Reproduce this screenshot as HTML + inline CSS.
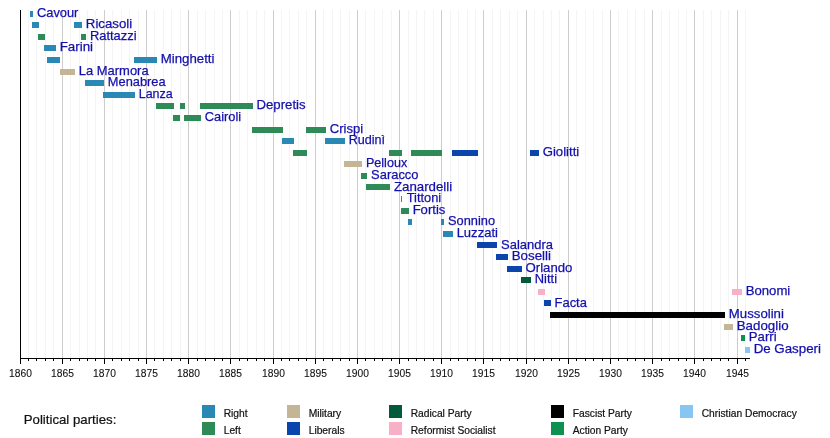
<!DOCTYPE html><html><head><meta charset="utf-8"><style>html,body{margin:0;padding:0;background:#fff;}svg{display:block;will-change:transform;}text{font-family:"Liberation Sans",sans-serif;}</style></head><body>
<svg width="830" height="438" viewBox="0 0 830 438">
<rect width="830" height="438" fill="#fff"/>
<line x1="28.50" y1="10" x2="28.50" y2="358" stroke="#f4f4f4" stroke-width="1"/>
<line x1="36.50" y1="10" x2="36.50" y2="358" stroke="#f4f4f4" stroke-width="1"/>
<line x1="45.50" y1="10" x2="45.50" y2="358" stroke="#f4f4f4" stroke-width="1"/>
<line x1="53.50" y1="10" x2="53.50" y2="358" stroke="#f4f4f4" stroke-width="1"/>
<line x1="62.50" y1="10" x2="62.50" y2="358" stroke="#cdcdcd" stroke-width="1"/>
<line x1="70.50" y1="10" x2="70.50" y2="358" stroke="#f4f4f4" stroke-width="1"/>
<line x1="79.50" y1="10" x2="79.50" y2="358" stroke="#f4f4f4" stroke-width="1"/>
<line x1="87.50" y1="10" x2="87.50" y2="358" stroke="#f4f4f4" stroke-width="1"/>
<line x1="95.50" y1="10" x2="95.50" y2="358" stroke="#f4f4f4" stroke-width="1"/>
<line x1="104.50" y1="10" x2="104.50" y2="358" stroke="#cdcdcd" stroke-width="1"/>
<line x1="112.50" y1="10" x2="112.50" y2="358" stroke="#f4f4f4" stroke-width="1"/>
<line x1="121.50" y1="10" x2="121.50" y2="358" stroke="#f4f4f4" stroke-width="1"/>
<line x1="129.50" y1="10" x2="129.50" y2="358" stroke="#f4f4f4" stroke-width="1"/>
<line x1="138.50" y1="10" x2="138.50" y2="358" stroke="#f4f4f4" stroke-width="1"/>
<line x1="146.50" y1="10" x2="146.50" y2="358" stroke="#cdcdcd" stroke-width="1"/>
<line x1="154.50" y1="10" x2="154.50" y2="358" stroke="#f4f4f4" stroke-width="1"/>
<line x1="163.50" y1="10" x2="163.50" y2="358" stroke="#f4f4f4" stroke-width="1"/>
<line x1="171.50" y1="10" x2="171.50" y2="358" stroke="#f4f4f4" stroke-width="1"/>
<line x1="180.50" y1="10" x2="180.50" y2="358" stroke="#f4f4f4" stroke-width="1"/>
<line x1="188.50" y1="10" x2="188.50" y2="358" stroke="#cdcdcd" stroke-width="1"/>
<line x1="197.50" y1="10" x2="197.50" y2="358" stroke="#f4f4f4" stroke-width="1"/>
<line x1="205.50" y1="10" x2="205.50" y2="358" stroke="#f4f4f4" stroke-width="1"/>
<line x1="214.50" y1="10" x2="214.50" y2="358" stroke="#f4f4f4" stroke-width="1"/>
<line x1="222.50" y1="10" x2="222.50" y2="358" stroke="#f4f4f4" stroke-width="1"/>
<line x1="230.50" y1="10" x2="230.50" y2="358" stroke="#cdcdcd" stroke-width="1"/>
<line x1="239.50" y1="10" x2="239.50" y2="358" stroke="#f4f4f4" stroke-width="1"/>
<line x1="247.50" y1="10" x2="247.50" y2="358" stroke="#f4f4f4" stroke-width="1"/>
<line x1="256.50" y1="10" x2="256.50" y2="358" stroke="#f4f4f4" stroke-width="1"/>
<line x1="264.50" y1="10" x2="264.50" y2="358" stroke="#f4f4f4" stroke-width="1"/>
<line x1="273.50" y1="10" x2="273.50" y2="358" stroke="#cdcdcd" stroke-width="1"/>
<line x1="281.50" y1="10" x2="281.50" y2="358" stroke="#f4f4f4" stroke-width="1"/>
<line x1="289.50" y1="10" x2="289.50" y2="358" stroke="#f4f4f4" stroke-width="1"/>
<line x1="298.50" y1="10" x2="298.50" y2="358" stroke="#f4f4f4" stroke-width="1"/>
<line x1="306.50" y1="10" x2="306.50" y2="358" stroke="#f4f4f4" stroke-width="1"/>
<line x1="315.50" y1="10" x2="315.50" y2="358" stroke="#cdcdcd" stroke-width="1"/>
<line x1="323.50" y1="10" x2="323.50" y2="358" stroke="#f4f4f4" stroke-width="1"/>
<line x1="332.50" y1="10" x2="332.50" y2="358" stroke="#f4f4f4" stroke-width="1"/>
<line x1="340.50" y1="10" x2="340.50" y2="358" stroke="#f4f4f4" stroke-width="1"/>
<line x1="349.50" y1="10" x2="349.50" y2="358" stroke="#f4f4f4" stroke-width="1"/>
<line x1="357.50" y1="10" x2="357.50" y2="358" stroke="#cdcdcd" stroke-width="1"/>
<line x1="365.50" y1="10" x2="365.50" y2="358" stroke="#f4f4f4" stroke-width="1"/>
<line x1="374.50" y1="10" x2="374.50" y2="358" stroke="#f4f4f4" stroke-width="1"/>
<line x1="382.50" y1="10" x2="382.50" y2="358" stroke="#f4f4f4" stroke-width="1"/>
<line x1="391.50" y1="10" x2="391.50" y2="358" stroke="#f4f4f4" stroke-width="1"/>
<line x1="399.50" y1="10" x2="399.50" y2="358" stroke="#cdcdcd" stroke-width="1"/>
<line x1="408.50" y1="10" x2="408.50" y2="358" stroke="#f4f4f4" stroke-width="1"/>
<line x1="416.50" y1="10" x2="416.50" y2="358" stroke="#f4f4f4" stroke-width="1"/>
<line x1="424.50" y1="10" x2="424.50" y2="358" stroke="#f4f4f4" stroke-width="1"/>
<line x1="433.50" y1="10" x2="433.50" y2="358" stroke="#f4f4f4" stroke-width="1"/>
<line x1="441.50" y1="10" x2="441.50" y2="358" stroke="#cdcdcd" stroke-width="1"/>
<line x1="450.50" y1="10" x2="450.50" y2="358" stroke="#f4f4f4" stroke-width="1"/>
<line x1="458.50" y1="10" x2="458.50" y2="358" stroke="#f4f4f4" stroke-width="1"/>
<line x1="467.50" y1="10" x2="467.50" y2="358" stroke="#f4f4f4" stroke-width="1"/>
<line x1="475.50" y1="10" x2="475.50" y2="358" stroke="#f4f4f4" stroke-width="1"/>
<line x1="483.50" y1="10" x2="483.50" y2="358" stroke="#cdcdcd" stroke-width="1"/>
<line x1="492.50" y1="10" x2="492.50" y2="358" stroke="#f4f4f4" stroke-width="1"/>
<line x1="500.50" y1="10" x2="500.50" y2="358" stroke="#f4f4f4" stroke-width="1"/>
<line x1="509.50" y1="10" x2="509.50" y2="358" stroke="#f4f4f4" stroke-width="1"/>
<line x1="517.50" y1="10" x2="517.50" y2="358" stroke="#f4f4f4" stroke-width="1"/>
<line x1="526.50" y1="10" x2="526.50" y2="358" stroke="#cdcdcd" stroke-width="1"/>
<line x1="534.50" y1="10" x2="534.50" y2="358" stroke="#f4f4f4" stroke-width="1"/>
<line x1="543.50" y1="10" x2="543.50" y2="358" stroke="#f4f4f4" stroke-width="1"/>
<line x1="551.50" y1="10" x2="551.50" y2="358" stroke="#f4f4f4" stroke-width="1"/>
<line x1="559.50" y1="10" x2="559.50" y2="358" stroke="#f4f4f4" stroke-width="1"/>
<line x1="568.50" y1="10" x2="568.50" y2="358" stroke="#cdcdcd" stroke-width="1"/>
<line x1="576.50" y1="10" x2="576.50" y2="358" stroke="#f4f4f4" stroke-width="1"/>
<line x1="585.50" y1="10" x2="585.50" y2="358" stroke="#f4f4f4" stroke-width="1"/>
<line x1="593.50" y1="10" x2="593.50" y2="358" stroke="#f4f4f4" stroke-width="1"/>
<line x1="602.50" y1="10" x2="602.50" y2="358" stroke="#f4f4f4" stroke-width="1"/>
<line x1="610.50" y1="10" x2="610.50" y2="358" stroke="#cdcdcd" stroke-width="1"/>
<line x1="618.50" y1="10" x2="618.50" y2="358" stroke="#f4f4f4" stroke-width="1"/>
<line x1="627.50" y1="10" x2="627.50" y2="358" stroke="#f4f4f4" stroke-width="1"/>
<line x1="635.50" y1="10" x2="635.50" y2="358" stroke="#f4f4f4" stroke-width="1"/>
<line x1="644.50" y1="10" x2="644.50" y2="358" stroke="#f4f4f4" stroke-width="1"/>
<line x1="652.50" y1="10" x2="652.50" y2="358" stroke="#cdcdcd" stroke-width="1"/>
<line x1="661.50" y1="10" x2="661.50" y2="358" stroke="#f4f4f4" stroke-width="1"/>
<line x1="669.50" y1="10" x2="669.50" y2="358" stroke="#f4f4f4" stroke-width="1"/>
<line x1="678.50" y1="10" x2="678.50" y2="358" stroke="#f4f4f4" stroke-width="1"/>
<line x1="686.50" y1="10" x2="686.50" y2="358" stroke="#f4f4f4" stroke-width="1"/>
<line x1="694.50" y1="10" x2="694.50" y2="358" stroke="#cdcdcd" stroke-width="1"/>
<line x1="703.50" y1="10" x2="703.50" y2="358" stroke="#f4f4f4" stroke-width="1"/>
<line x1="711.50" y1="10" x2="711.50" y2="358" stroke="#f4f4f4" stroke-width="1"/>
<line x1="720.50" y1="10" x2="720.50" y2="358" stroke="#f4f4f4" stroke-width="1"/>
<line x1="728.50" y1="10" x2="728.50" y2="358" stroke="#f4f4f4" stroke-width="1"/>
<line x1="737.50" y1="10" x2="737.50" y2="358" stroke="#cdcdcd" stroke-width="1"/>
<line x1="745.50" y1="10" x2="745.50" y2="358" stroke="#f4f4f4" stroke-width="1"/>
<rect x="30" y="11" width="3" height="6" fill="#2a88b4"/>
<rect x="32" y="22" width="7" height="6" fill="#2a88b4"/>
<rect x="74" y="22" width="8" height="6" fill="#2a88b4"/>
<rect x="38" y="34" width="7" height="6" fill="#2e8b57"/>
<rect x="81" y="34" width="5" height="6" fill="#2e8b57"/>
<rect x="44" y="45" width="12" height="6" fill="#2a88b4"/>
<rect x="47" y="57" width="13" height="6" fill="#2a88b4"/>
<rect x="134" y="57" width="23" height="6" fill="#2a88b4"/>
<rect x="60" y="69" width="15" height="6" fill="#c4b597"/>
<rect x="85" y="80" width="19" height="6" fill="#2a88b4"/>
<rect x="103" y="92" width="32" height="6" fill="#2a88b4"/>
<rect x="156" y="103" width="18" height="6" fill="#2e8b57"/>
<rect x="180" y="103" width="5" height="6" fill="#2e8b57"/>
<rect x="200" y="103" width="53" height="6" fill="#2e8b57"/>
<rect x="173" y="115" width="7" height="6" fill="#2e8b57"/>
<rect x="184" y="115" width="17" height="6" fill="#2e8b57"/>
<rect x="252" y="127" width="31" height="6" fill="#2e8b57"/>
<rect x="306" y="127" width="20" height="6" fill="#2e8b57"/>
<rect x="282" y="138" width="12" height="6" fill="#2a88b4"/>
<rect x="325" y="138" width="20" height="6" fill="#2a88b4"/>
<rect x="293" y="150" width="14" height="6" fill="#2e8b57"/>
<rect x="389" y="150" width="13" height="6" fill="#2e8b57"/>
<rect x="411" y="150" width="31" height="6" fill="#2e8b57"/>
<rect x="452" y="150" width="26" height="6" fill="#0a45ad"/>
<rect x="530" y="150" width="9" height="6" fill="#0a45ad"/>
<rect x="344" y="161" width="18" height="6" fill="#c4b597"/>
<rect x="361" y="173" width="6" height="6" fill="#2e8b57"/>
<rect x="366" y="184" width="24" height="6" fill="#2e8b57"/>
<rect x="401" y="196" width="1" height="6" fill="#2a88b4"/>
<rect x="401" y="208" width="8" height="6" fill="#2e8b57"/>
<rect x="408" y="219" width="4" height="6" fill="#2a88b4"/>
<rect x="441" y="219" width="3" height="6" fill="#2a88b4"/>
<rect x="443" y="231" width="10" height="6" fill="#2a88b4"/>
<rect x="477" y="242" width="20" height="6" fill="#0a45ad"/>
<rect x="496" y="254" width="12" height="6" fill="#0a45ad"/>
<rect x="507" y="266" width="15" height="6" fill="#0a45ad"/>
<rect x="521" y="277" width="10" height="6" fill="#005a3c"/>
<rect x="538" y="289" width="7" height="6" fill="#f8b0c6"/>
<rect x="732" y="289" width="10" height="6" fill="#f8b0c6"/>
<rect x="544" y="300" width="7" height="6" fill="#0a45ad"/>
<rect x="550" y="312" width="175" height="6" fill="#000000"/>
<rect x="724" y="324" width="9" height="6" fill="#c4b597"/>
<rect x="741" y="335" width="4" height="6" fill="#0e9150"/>
<rect x="745" y="347" width="5" height="6" fill="#87c6f2"/>
<text x="36.98" y="16.55" font-size="13.4" fill="#1410ac" stroke="#1410ac" stroke-width="0.25" textLength="41.42" lengthAdjust="spacingAndGlyphs">Cavour</text>
<text x="85.83" y="28.15" font-size="13.4" fill="#1410ac" stroke="#1410ac" stroke-width="0.25" textLength="46.36" lengthAdjust="spacingAndGlyphs">Ricasoli</text>
<text x="89.93" y="39.75" font-size="13.4" fill="#1410ac" stroke="#1410ac" stroke-width="0.25" textLength="46.67" lengthAdjust="spacingAndGlyphs">Rattazzi</text>
<text x="59.63" y="51.34" font-size="13.4" fill="#1410ac" stroke="#1410ac" stroke-width="0.25" textLength="33.45" lengthAdjust="spacingAndGlyphs">Farini</text>
<text x="160.73" y="62.94" font-size="13.4" fill="#1410ac" stroke="#1410ac" stroke-width="0.25" textLength="53.78" lengthAdjust="spacingAndGlyphs">Minghetti</text>
<text x="78.83" y="74.54" font-size="13.4" fill="#1410ac" stroke="#1410ac" stroke-width="0.25" textLength="69.78" lengthAdjust="spacingAndGlyphs">La Marmora</text>
<text x="107.83" y="86.14" font-size="13.4" fill="#1410ac" stroke="#1410ac" stroke-width="0.25" textLength="57.71" lengthAdjust="spacingAndGlyphs">Menabrea</text>
<text x="138.73" y="97.74" font-size="13.4" fill="#1410ac" stroke="#1410ac" stroke-width="0.25" textLength="33.97" lengthAdjust="spacingAndGlyphs">Lanza</text>
<text x="256.53" y="109.33" font-size="13.4" fill="#1410ac" stroke="#1410ac" stroke-width="0.25" textLength="49.12" lengthAdjust="spacingAndGlyphs">Depretis</text>
<text x="204.83" y="120.93" font-size="13.4" fill="#1410ac" stroke="#1410ac" stroke-width="0.25" textLength="36.30" lengthAdjust="spacingAndGlyphs">Cairoli</text>
<text x="329.73" y="132.53" font-size="13.4" fill="#1410ac" stroke="#1410ac" stroke-width="0.25" textLength="33.35" lengthAdjust="spacingAndGlyphs">Crispi</text>
<text x="348.63" y="144.13" font-size="13.4" fill="#1410ac" stroke="#1410ac" stroke-width="0.25" textLength="36.45" lengthAdjust="spacingAndGlyphs">Rudinì</text>
<text x="542.73" y="155.73" font-size="13.4" fill="#1410ac" stroke="#1410ac" stroke-width="0.25" textLength="36.49" lengthAdjust="spacingAndGlyphs">Giolitti</text>
<text x="365.93" y="167.32" font-size="13.4" fill="#1410ac" stroke="#1410ac" stroke-width="0.25" textLength="41.30" lengthAdjust="spacingAndGlyphs">Pelloux</text>
<text x="371.10" y="178.92" font-size="13.4" fill="#1410ac" stroke="#1410ac" stroke-width="0.25" textLength="47.39" lengthAdjust="spacingAndGlyphs">Saracco</text>
<text x="393.90" y="190.52" font-size="13.4" fill="#1410ac" stroke="#1410ac" stroke-width="0.25" textLength="58.29" lengthAdjust="spacingAndGlyphs">Zanardelli</text>
<text x="406.77" y="202.12" font-size="13.4" fill="#1410ac" stroke="#1410ac" stroke-width="0.25" textLength="34.42" lengthAdjust="spacingAndGlyphs">Tittoni</text>
<text x="412.63" y="213.72" font-size="13.4" fill="#1410ac" stroke="#1410ac" stroke-width="0.25" textLength="32.74" lengthAdjust="spacingAndGlyphs">Fortis</text>
<text x="448.00" y="225.31" font-size="13.4" fill="#1410ac" stroke="#1410ac" stroke-width="0.25" textLength="47.04" lengthAdjust="spacingAndGlyphs">Sonnino</text>
<text x="456.63" y="236.91" font-size="13.4" fill="#1410ac" stroke="#1410ac" stroke-width="0.25" textLength="41.29" lengthAdjust="spacingAndGlyphs">Luzzati</text>
<text x="501.10" y="248.51" font-size="13.4" fill="#1410ac" stroke="#1410ac" stroke-width="0.25" textLength="51.94" lengthAdjust="spacingAndGlyphs">Salandra</text>
<text x="511.73" y="260.11" font-size="13.4" fill="#1410ac" stroke="#1410ac" stroke-width="0.25" textLength="39.26" lengthAdjust="spacingAndGlyphs">Boselli</text>
<text x="525.50" y="271.71" font-size="13.4" fill="#1410ac" stroke="#1410ac" stroke-width="0.25" textLength="46.88" lengthAdjust="spacingAndGlyphs">Orlando</text>
<text x="534.83" y="283.30" font-size="13.4" fill="#1410ac" stroke="#1410ac" stroke-width="0.25" textLength="22.17" lengthAdjust="spacingAndGlyphs">Nitti</text>
<text x="745.63" y="294.90" font-size="13.4" fill="#1410ac" stroke="#1410ac" stroke-width="0.25" textLength="44.65" lengthAdjust="spacingAndGlyphs">Bonomi</text>
<text x="554.53" y="306.50" font-size="13.4" fill="#1410ac" stroke="#1410ac" stroke-width="0.25" textLength="32.39" lengthAdjust="spacingAndGlyphs">Facta</text>
<text x="728.83" y="318.10" font-size="13.4" fill="#1410ac" stroke="#1410ac" stroke-width="0.25" textLength="55.08" lengthAdjust="spacingAndGlyphs">Mussolini</text>
<text x="736.73" y="329.70" font-size="13.4" fill="#1410ac" stroke="#1410ac" stroke-width="0.25" textLength="51.84" lengthAdjust="spacingAndGlyphs">Badoglio</text>
<text x="748.83" y="341.29" font-size="13.4" fill="#1410ac" stroke="#1410ac" stroke-width="0.25" textLength="27.76" lengthAdjust="spacingAndGlyphs">Parri</text>
<text x="753.63" y="352.89" font-size="13.4" fill="#1410ac" stroke="#1410ac" stroke-width="0.25" textLength="67.38" lengthAdjust="spacingAndGlyphs">De Gasperi</text>
<rect x="20" y="10" width="1" height="354" fill="#000"/>
<rect x="20" y="358" width="730" height="1" fill="#000"/>
<rect x="28" y="359" width="1" height="2" fill="#000"/>
<rect x="36" y="359" width="1" height="2" fill="#000"/>
<rect x="45" y="359" width="1" height="2" fill="#000"/>
<rect x="53" y="359" width="1" height="2" fill="#000"/>
<rect x="62" y="359" width="1" height="5" fill="#000"/>
<rect x="70" y="359" width="1" height="2" fill="#000"/>
<rect x="79" y="359" width="1" height="2" fill="#000"/>
<rect x="87" y="359" width="1" height="2" fill="#000"/>
<rect x="95" y="359" width="1" height="2" fill="#000"/>
<rect x="104" y="359" width="1" height="5" fill="#000"/>
<rect x="112" y="359" width="1" height="2" fill="#000"/>
<rect x="121" y="359" width="1" height="2" fill="#000"/>
<rect x="129" y="359" width="1" height="2" fill="#000"/>
<rect x="138" y="359" width="1" height="2" fill="#000"/>
<rect x="146" y="359" width="1" height="5" fill="#000"/>
<rect x="154" y="359" width="1" height="2" fill="#000"/>
<rect x="163" y="359" width="1" height="2" fill="#000"/>
<rect x="171" y="359" width="1" height="2" fill="#000"/>
<rect x="180" y="359" width="1" height="2" fill="#000"/>
<rect x="188" y="359" width="1" height="5" fill="#000"/>
<rect x="197" y="359" width="1" height="2" fill="#000"/>
<rect x="205" y="359" width="1" height="2" fill="#000"/>
<rect x="214" y="359" width="1" height="2" fill="#000"/>
<rect x="222" y="359" width="1" height="2" fill="#000"/>
<rect x="230" y="359" width="1" height="5" fill="#000"/>
<rect x="239" y="359" width="1" height="2" fill="#000"/>
<rect x="247" y="359" width="1" height="2" fill="#000"/>
<rect x="256" y="359" width="1" height="2" fill="#000"/>
<rect x="264" y="359" width="1" height="2" fill="#000"/>
<rect x="273" y="359" width="1" height="5" fill="#000"/>
<rect x="281" y="359" width="1" height="2" fill="#000"/>
<rect x="289" y="359" width="1" height="2" fill="#000"/>
<rect x="298" y="359" width="1" height="2" fill="#000"/>
<rect x="306" y="359" width="1" height="2" fill="#000"/>
<rect x="315" y="359" width="1" height="5" fill="#000"/>
<rect x="323" y="359" width="1" height="2" fill="#000"/>
<rect x="332" y="359" width="1" height="2" fill="#000"/>
<rect x="340" y="359" width="1" height="2" fill="#000"/>
<rect x="349" y="359" width="1" height="2" fill="#000"/>
<rect x="357" y="359" width="1" height="5" fill="#000"/>
<rect x="365" y="359" width="1" height="2" fill="#000"/>
<rect x="374" y="359" width="1" height="2" fill="#000"/>
<rect x="382" y="359" width="1" height="2" fill="#000"/>
<rect x="391" y="359" width="1" height="2" fill="#000"/>
<rect x="399" y="359" width="1" height="5" fill="#000"/>
<rect x="408" y="359" width="1" height="2" fill="#000"/>
<rect x="416" y="359" width="1" height="2" fill="#000"/>
<rect x="424" y="359" width="1" height="2" fill="#000"/>
<rect x="433" y="359" width="1" height="2" fill="#000"/>
<rect x="441" y="359" width="1" height="5" fill="#000"/>
<rect x="450" y="359" width="1" height="2" fill="#000"/>
<rect x="458" y="359" width="1" height="2" fill="#000"/>
<rect x="467" y="359" width="1" height="2" fill="#000"/>
<rect x="475" y="359" width="1" height="2" fill="#000"/>
<rect x="483" y="359" width="1" height="5" fill="#000"/>
<rect x="492" y="359" width="1" height="2" fill="#000"/>
<rect x="500" y="359" width="1" height="2" fill="#000"/>
<rect x="509" y="359" width="1" height="2" fill="#000"/>
<rect x="517" y="359" width="1" height="2" fill="#000"/>
<rect x="526" y="359" width="1" height="5" fill="#000"/>
<rect x="534" y="359" width="1" height="2" fill="#000"/>
<rect x="543" y="359" width="1" height="2" fill="#000"/>
<rect x="551" y="359" width="1" height="2" fill="#000"/>
<rect x="559" y="359" width="1" height="2" fill="#000"/>
<rect x="568" y="359" width="1" height="5" fill="#000"/>
<rect x="576" y="359" width="1" height="2" fill="#000"/>
<rect x="585" y="359" width="1" height="2" fill="#000"/>
<rect x="593" y="359" width="1" height="2" fill="#000"/>
<rect x="602" y="359" width="1" height="2" fill="#000"/>
<rect x="610" y="359" width="1" height="5" fill="#000"/>
<rect x="618" y="359" width="1" height="2" fill="#000"/>
<rect x="627" y="359" width="1" height="2" fill="#000"/>
<rect x="635" y="359" width="1" height="2" fill="#000"/>
<rect x="644" y="359" width="1" height="2" fill="#000"/>
<rect x="652" y="359" width="1" height="5" fill="#000"/>
<rect x="661" y="359" width="1" height="2" fill="#000"/>
<rect x="669" y="359" width="1" height="2" fill="#000"/>
<rect x="678" y="359" width="1" height="2" fill="#000"/>
<rect x="686" y="359" width="1" height="2" fill="#000"/>
<rect x="694" y="359" width="1" height="5" fill="#000"/>
<rect x="703" y="359" width="1" height="2" fill="#000"/>
<rect x="711" y="359" width="1" height="2" fill="#000"/>
<rect x="720" y="359" width="1" height="2" fill="#000"/>
<rect x="728" y="359" width="1" height="2" fill="#000"/>
<rect x="737" y="359" width="1" height="5" fill="#000"/>
<rect x="745" y="359" width="1" height="2" fill="#000"/>
<text x="20.50" y="376.6" font-size="10.25" fill="#111111" stroke="#111111" stroke-width="0.1" text-anchor="middle">1860</text>
<text x="62.50" y="376.6" font-size="10.25" fill="#111111" stroke="#111111" stroke-width="0.1" text-anchor="middle">1865</text>
<text x="104.50" y="376.6" font-size="10.25" fill="#111111" stroke="#111111" stroke-width="0.1" text-anchor="middle">1870</text>
<text x="146.50" y="376.6" font-size="10.25" fill="#111111" stroke="#111111" stroke-width="0.1" text-anchor="middle">1875</text>
<text x="188.50" y="376.6" font-size="10.25" fill="#111111" stroke="#111111" stroke-width="0.1" text-anchor="middle">1880</text>
<text x="230.50" y="376.6" font-size="10.25" fill="#111111" stroke="#111111" stroke-width="0.1" text-anchor="middle">1885</text>
<text x="273.50" y="376.6" font-size="10.25" fill="#111111" stroke="#111111" stroke-width="0.1" text-anchor="middle">1890</text>
<text x="315.50" y="376.6" font-size="10.25" fill="#111111" stroke="#111111" stroke-width="0.1" text-anchor="middle">1895</text>
<text x="357.50" y="376.6" font-size="10.25" fill="#111111" stroke="#111111" stroke-width="0.1" text-anchor="middle">1900</text>
<text x="399.50" y="376.6" font-size="10.25" fill="#111111" stroke="#111111" stroke-width="0.1" text-anchor="middle">1905</text>
<text x="441.50" y="376.6" font-size="10.25" fill="#111111" stroke="#111111" stroke-width="0.1" text-anchor="middle">1910</text>
<text x="483.50" y="376.6" font-size="10.25" fill="#111111" stroke="#111111" stroke-width="0.1" text-anchor="middle">1915</text>
<text x="526.50" y="376.6" font-size="10.25" fill="#111111" stroke="#111111" stroke-width="0.1" text-anchor="middle">1920</text>
<text x="568.50" y="376.6" font-size="10.25" fill="#111111" stroke="#111111" stroke-width="0.1" text-anchor="middle">1925</text>
<text x="610.50" y="376.6" font-size="10.25" fill="#111111" stroke="#111111" stroke-width="0.1" text-anchor="middle">1930</text>
<text x="652.50" y="376.6" font-size="10.25" fill="#111111" stroke="#111111" stroke-width="0.1" text-anchor="middle">1935</text>
<text x="694.50" y="376.6" font-size="10.25" fill="#111111" stroke="#111111" stroke-width="0.1" text-anchor="middle">1940</text>
<text x="737.50" y="376.6" font-size="10.25" fill="#111111" stroke="#111111" stroke-width="0.1" text-anchor="middle">1945</text>
<text x="23.76" y="423.9" font-size="13" fill="#111111" stroke="#111111" stroke-width="0.2" textLength="92.6" lengthAdjust="spacingAndGlyphs">Political parties:</text>
<rect x="202" y="405" width="13" height="13" fill="#2a88b4"/>
<text x="223.70" y="417.20" font-size="10.25" fill="#111111" stroke="#111111" stroke-width="0.2">Right</text>
<rect x="202" y="422" width="13" height="13" fill="#2e8b57"/>
<text x="223.70" y="434.20" font-size="10.25" fill="#111111" stroke="#111111" stroke-width="0.2">Left</text>
<rect x="287" y="405" width="13" height="13" fill="#c4b597"/>
<text x="308.70" y="417.20" font-size="10.25" fill="#111111" stroke="#111111" stroke-width="0.2">Military</text>
<rect x="287" y="422" width="13" height="13" fill="#0a45ad"/>
<text x="308.70" y="434.20" font-size="10.25" fill="#111111" stroke="#111111" stroke-width="0.2">Liberals</text>
<rect x="389" y="405" width="13" height="13" fill="#005a3c"/>
<text x="410.70" y="417.20" font-size="10.25" fill="#111111" stroke="#111111" stroke-width="0.2">Radical Party</text>
<rect x="389" y="422" width="13" height="13" fill="#f8b0c6"/>
<text x="410.70" y="434.20" font-size="10.25" fill="#111111" stroke="#111111" stroke-width="0.2">Reformist Socialist</text>
<rect x="551" y="405" width="13" height="13" fill="#000000"/>
<text x="572.70" y="417.20" font-size="10.25" fill="#111111" stroke="#111111" stroke-width="0.2">Fascist Party</text>
<rect x="551" y="422" width="13" height="13" fill="#0e9150"/>
<text x="572.70" y="434.20" font-size="10.25" fill="#111111" stroke="#111111" stroke-width="0.2">Action Party</text>
<rect x="680" y="405" width="13" height="13" fill="#87c6f2"/>
<text x="701.70" y="417.20" font-size="10.25" fill="#111111" stroke="#111111" stroke-width="0.2">Christian Democracy</text>
</svg></body></html>
